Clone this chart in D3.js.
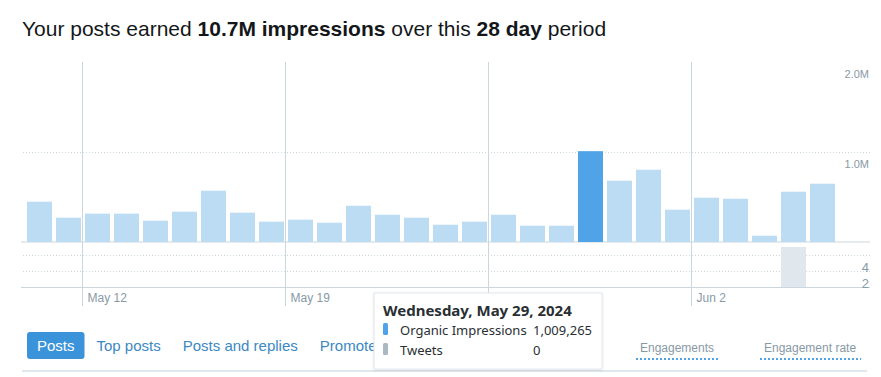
<!DOCTYPE html>
<html>
<head>
<meta charset="utf-8">
<script src="https://cdn.jsdelivr.net/npm/d3@7"></script>
<style>
  body { margin: 0; background: #fff; }
  svg { display: block; font-family: "Liberation Sans", Arial, sans-serif; }
</style>
</head>
<body>
<div id="chart"></div>
<script>
var days = ["May 10", "May 11", "May 12", "May 13", "May 14", "May 15", "May 16",
  "May 17", "May 18", "May 19", "May 20", "May 21", "May 22", "May 23",
  "May 24", "May 25", "May 26", "May 27", "May 28", "May 29", "May 30",
  "May 31", "Jun 1", "Jun 2", "Jun 3", "Jun 4", "Jun 5", "Jun 6"];
var impressions = [448000, 270000, 315000, 315000, 237000, 337000, 570000,
  326000, 226000, 248000, 214000, 403000, 303000, 270000,
  192000, 226000, 303000, 181000, 181000, 1009265, 681000,
  803000, 359000, 492000, 481000, 70000, 559000, 648000];
var tweets = [0, 0, 0, 0, 0, 0, 0,
  0, 0, 0, 0, 0, 0, 0,
  0, 0, 0, 0, 0, 0, 0,
  0, 0, 0, 0, 0, 7, 0];
var weekTicks = ["May 12", "May 19", "May 26", "Jun 2"];
var hiddenTickLabels = ["May 26"]; // sits under the tooltip
var impTicks = [1000000, 2000000];
var tweetTicks = [2, 4, 6];
var tweetLabels = [2, 4];
var selectedDay = "May 29";
var tooltipTitle = "Wednesday, May 29, 2024";
var seriesNames = ["Organic Impressions", "Tweets"];
var tabs = ["Posts", "Top posts", "Posts and replies", "Promoted"];
var metrics = ["Engagements", "Engagement rate"];

var data = days.map(function (d, i) {
  return { day: d, imp: impressions[i], tw: tweets[i] };
});

var W = 881, H = 377;
var gridColor = "#ccd6dd", labelColor = "#8899a6";

var x = d3.scaleBand().domain(days).range([27, 835]).paddingInner(4 / 29);
var y = d3.scaleLinear().domain([0, 2000000]).range([242, 62]);
var yT = d3.scaleLinear().domain([0, 8]).range([303, 239]);

var svg = d3.select("#chart").append("svg")
  .attr("width", W)
  .attr("height", H);

// title
var title = svg.append("text")
  .attr("x", 22)
  .attr("y", 36)
  .style("font-size", "21px")
  .style("fill", "#14171a");
title.append("tspan").text("Your posts earned ");
title.append("tspan").style("font-weight", "bold").text("10.7M impressions");
title.append("tspan").text(" over this ");
title.append("tspan").style("font-weight", "bold").text("28 day");
title.append("tspan").text(" period");

// impressions gridline + labels on the right
var yAxis = d3.axisLeft(y).tickValues(impTicks).tickSize(849)
  .tickFormat(function (d) { return d3.format(".1f")(d / 1e6) + "M"; });
var gy = svg.append("g")
  .attr("transform", "translate(870,0)")
  .call(yAxis);
gy.select(".domain").remove();
gy.selectAll(".tick line")
  .attr("stroke", function (d) { return d === 2000000 ? "none" : gridColor; })
  .attr("stroke-dasharray", "1,2");
gy.selectAll(".tick text")
  .attr("x", -1).attr("y", 15).attr("dy", 0)
  .style("font-family", "Liberation Sans, Arial, sans-serif")
  .style("font-size", "11px")
  .style("fill", labelColor);

// tweets gridlines
var yTAxis = d3.axisLeft(yT).tickValues(tweetTicks).tickSize(849)
  .tickFormat(function (d) { return tweetLabels.indexOf(d) >= 0 ? d : ""; });
var gt = svg.append("g")
  .attr("transform", "translate(870,0)")
  .call(yTAxis);
gt.select(".domain").remove();
gt.selectAll(".tick line")
  .attr("stroke", gridColor)
  .attr("stroke-dasharray", function (d) { return d === 2 ? null : "1,2"; });
gt.selectAll(".tick text")
  .attr("x", -1).attr("y", 0).attr("dy", 0)
  .style("font-family", "Liberation Sans, Arial, sans-serif")
  .style("font-size", "13px")
  .style("fill", labelColor);

// tweets bars (clipped to lower panel)
svg.append("clipPath").attr("id", "tweetClip")
  .append("rect")
  .attr("x", 0).attr("y", y(0) + 1)
  .attr("width", W).attr("height", yT(2) - y(0) - 1);
svg.append("g")
  .attr("clip-path", "url(#tweetClip)")
  .selectAll("rect")
  .data(data.filter(function (d) { return d.tw > 0; }))
  .join("rect")
  .attr("x", function (d) { return x(d.day); })
  .attr("width", x.bandwidth())
  .attr("y", function (d) { return yT(d.tw); })
  .attr("height", function (d) { return yT(0) - yT(d.tw); })
  .attr("fill", "#e1e8ed");

// week lines + x labels
var xAxis = d3.axisBottom(x).tickValues(weekTicks).tickSize(0)
  .tickFormat(function (d) { return hiddenTickLabels.indexOf(d) >= 0 ? "" : d; });
var gx = svg.append("g")
  .attr("transform", "translate(" + (-x.bandwidth() / 2 - 2.5) + "," + yT(2) + ")")
  .call(xAxis);
gx.select(".domain").remove();
gx.selectAll(".tick line")
  .attr("y1", y(2000000) - yT(2))
  .attr("y2", 19)
  .attr("stroke", gridColor);
gx.selectAll(".tick text")
  .attr("x", 5).attr("y", 15).attr("dy", 0)
  .attr("text-anchor", "start")
  .style("font-family", "Liberation Sans, Arial, sans-serif")
  .style("font-size", "12px")
  .style("fill", labelColor);

// baseline
svg.append("line")
  .attr("x1", 21).attr("x2", 870)
  .attr("y1", y(0)).attr("y2", y(0))
  .attr("stroke", gridColor);

// impressions bars
svg.append("g")
  .selectAll("rect")
  .data(data)
  .join("rect")
  .attr("x", function (d) { return x(d.day); })
  .attr("width", x.bandwidth())
  .attr("y", function (d) { return y(d.imp); })
  .attr("height", function (d) { return y(0) - y(d.imp); })
  .attr("fill", function (d) { return d.day === selectedDay ? "#4fa3e6" : "#bcdcf4"; });

// tabs
var tabG = svg.append("g").attr("transform", "translate(0,351)");
var tx = 27;
tabs.forEach(function (t, i) {
  var g = tabG.append("g");
  var txt = g.append("text")
    .attr("x", tx + 10)
    .style("font-size", "15px")
    .style("fill", i === 0 ? "#fff" : "#3b88c3")
    .text(t);
  var w = txt.node().getComputedTextLength();
  if (i === 0) {
    g.insert("rect", "text")
      .attr("x", tx).attr("y", -19)
      .attr("width", w + 20).attr("height", 27)
      .attr("rx", 3)
      .attr("fill", "#3b94d9");
    tx += w + 20 + 2;
  } else {
    tx += w + 22;
  }
});

// separator
svg.append("line")
  .attr("x1", 22).attr("x2", 867)
  .attr("y1", 371).attr("y2", 371)
  .attr("stroke", "#e1e8ed").attr("stroke-width", 2);

// metric links
var metricX = [640, 764];
metrics.forEach(function (m, i) {
  var t = svg.append("text")
    .attr("x", metricX[i]).attr("y", 352)
    .style("font-size", "12px")
    .style("fill", labelColor)
    .text(m);
  var w = t.node().getComputedTextLength();
  svg.append("line")
    .attr("x1", metricX[i] - 4).attr("x2", metricX[i] + w + 5)
    .attr("y1", 359).attr("y2", 359)
    .attr("stroke", "#4fa3e6").attr("stroke-width", 2)
    .attr("stroke-dasharray", "2,2");
});

// tooltip
var sel = data[days.indexOf(selectedDay)];
var defs = svg.append("defs");
var f = defs.append("filter").attr("id", "shadow")
  .attr("x", "-10%").attr("y", "-10%").attr("width", "120%").attr("height", "130%");
f.append("feDropShadow").attr("dx", 0).attr("dy", 1).attr("stdDeviation", 1.2)
  .attr("flood-color", "#000").attr("flood-opacity", 0.12);
var tip = svg.append("g")
  .attr("transform", "translate(374,293)")
  .style("font-family", "'Noto Sans', 'Open Sans', sans-serif");
tip.append("rect")
  .attr("width", 228).attr("height", 76)
  .attr("fill", "#fff")
  .attr("stroke", "#e1e8ed")
  .attr("filter", "url(#shadow)");
tip.append("text")
  .attr("x", 9).attr("y", 23)
  .style("font-size", "15px").style("font-weight", "bold")
  .style("fill", "#292f33")
  .text(tooltipTitle);
var rowVals = [d3.format(",")(sel.imp), String(sel.tw)];
var rowColors = ["#4fa3e6", "#aab8c2"];
seriesNames.forEach(function (s, i) {
  var ry = 42 + i * 20;
  tip.append("rect")
    .attr("x", 9).attr("y", ry - 12)
    .attr("width", 5).attr("height", 12).attr("rx", 1.5)
    .attr("fill", rowColors[i]);
  tip.append("text")
    .attr("x", 26).attr("y", ry)
    .style("font-size", "13px").style("fill", "#292f33")
    .text(s);
  tip.append("text")
    .attr("x", 159).attr("y", ry)
    .style("font-size", "13px").style("fill", "#292f33")
    .text(rowVals[i]);
});
</script>
</body>
</html>
